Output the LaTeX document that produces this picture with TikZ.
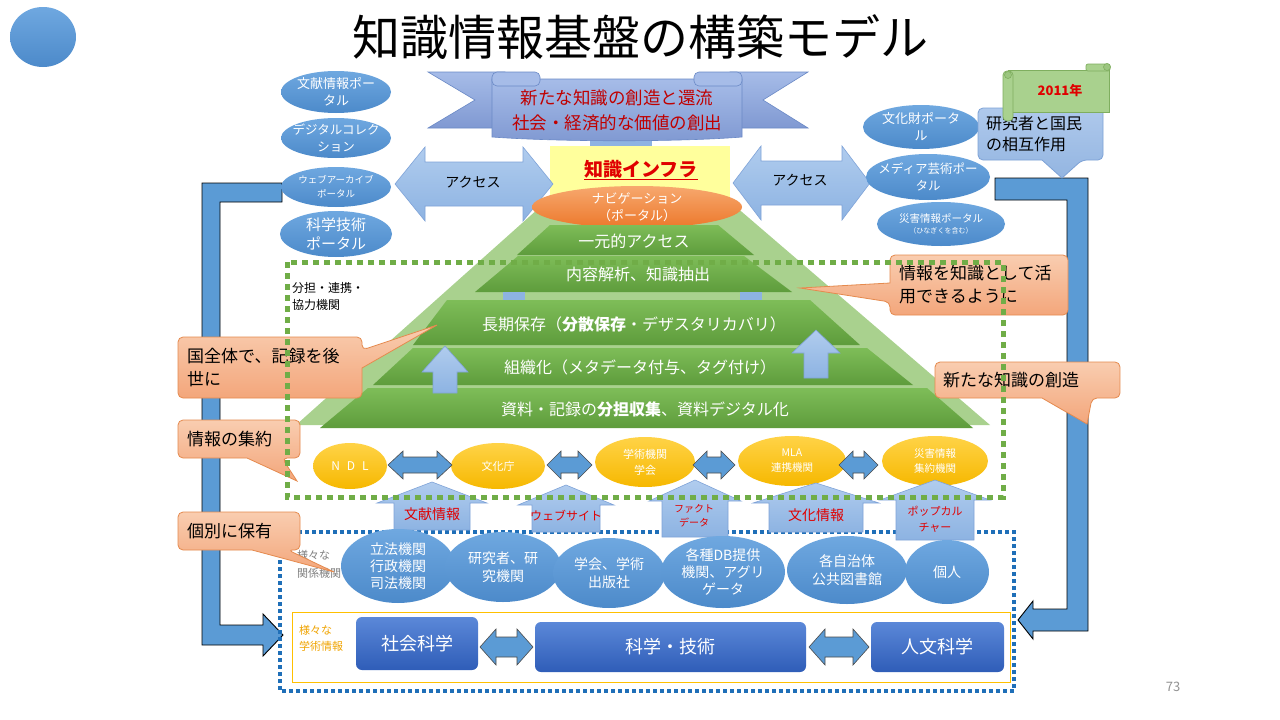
\documentclass[tikz,border=0pt]{standalone}
\usepackage{fontspec}
\setmainfont{Noto Sans CJK JP}
\newcommand\fz[2]{\fontsize{#1}{#2}\selectfont}
\definecolor{ellT}{HTML}{6FA8E0}
\definecolor{ellB}{HTML}{4C8ACA}
\definecolor{arrT}{HTML}{B0CCEE}
\definecolor{arrB}{HTML}{8DB3E2}
\definecolor{arrD}{HTML}{7FA3D8}
\definecolor{calT}{HTML}{F9CDB0}
\definecolor{calB}{HTML}{F3A67B}
\definecolor{calD}{HTML}{E58A4E}
\definecolor{grnT}{HTML}{7EBD58}
\definecolor{grnB}{HTML}{5E9C3C}
\definecolor{grnL}{HTML}{A9D18E}
\definecolor{grnDot}{HTML}{70AD47}
\definecolor{bluDot}{HTML}{1F6FB8}
\definecolor{ylwT}{HTML}{FFD347}
\definecolor{ylwB}{HTML}{F6B800}
\definecolor{orgT}{HTML}{F7A86E}
\definecolor{orgB}{HTML}{EC782B}
\definecolor{dbT}{HTML}{5B88D8}
\definecolor{dbB}{HTML}{2F5DB8}
\definecolor{bendB}{HTML}{5B9BD5}
\definecolor{redT}{HTML}{C00000}
\definecolor{redA}{HTML}{E00000}
\definecolor{ribT}{HTML}{A6BCE8}
\definecolor{ribB}{HTML}{8099D2}
\definecolor{ribD}{HTML}{6A89C6}
\definecolor{yelBox}{HTML}{FFFF9C}
\definecolor{scrollG}{HTML}{A9D18E}
\definecolor{scrollD}{HTML}{7FAE5F}
\definecolor{orgLine}{HTML}{FFC000}
\definecolor{orgTxt}{HTML}{F0A400}
\definecolor{greyTxt}{HTML}{7F7F7F}
\definecolor{bcalT}{HTML}{AFC9EC}
\definecolor{bcalB}{HTML}{93B5E1}
\definecolor{bcalD}{HTML}{7DA2D6}
% block arrow with heads at both ends: style, x1, x2, yc, shaft half, head half, head length
\newcommand\dblarrow[7]{%
  \path[#1] (#2,#4) -- (#2+#7,#4-#6) -- (#2+#7,#4-#5) -- (#3-#7,#4-#5)
    -- (#3-#7,#4-#6) -- (#3,#4) -- (#3-#7,#4+#6) -- (#3-#7,#4+#5)
    -- (#2+#7,#4+#5) -- (#2+#7,#4+#6) -- cycle;}
% upward block arrow: style, xc, y tip, y head base, y bottom, head half, shaft half
\newcommand\uparr[7]{%
  \path[#1] (#2,#3) -- (#2+#6,#4) -- (#2+#7,#4) -- (#2+#7,#5)
    -- (#2-#7,#5) -- (#2-#7,#4) -- (#2-#6,#4) -- cycle;}
% filled ellipse with a text node at its centre: style, name, x, y, rx, ry, font, text
\newcommand\ellnode[8]{%
  \path[#1] (#3,#4) ellipse [x radius=#5pt, y radius=#6pt];
  \node[etext, font=#7] (#2) at (#3,#4) {#8};}
\begin{document}
\begin{tikzpicture}[x=1pt,y=-1pt,
  blueE/.style={top color=ellT,bottom color=ellB},
  yelE/.style={top color=ylwT,bottom color=ylwB},
  etext/.style={text=white,align=center,inner sep=0pt},
  acc/.style={top color=arrT,bottom color=arrB,draw=arrD,line width=0.6pt},
  dbl/.style={fill=bendB,draw=black!70,line width=0.6pt},
  bentarrow/.style={fill=bendB,draw=black,line width=0.9pt},
  calloutbox/.style={top color=calT,bottom color=calB,draw=calD,line width=0.8pt,rounded corners=5pt},
  pyrlayer/.style={top color=grnT,bottom color=grnB},
  ltext/.style={text=white,inner sep=0pt,font=\fz{16}{19}},
  ctext/.style={text=black,align=left,inner sep=0pt,anchor=west,font=\fz{17}{23}},
  atext/.style={text=redA,align=center,inner sep=0pt},
  dbox/.style={top color=dbT,bottom color=dbB,rounded corners=6pt,text=white,inner sep=0pt,font=\fz{18}{21}},
]
\path[use as bounding box, fill=white] (0,0) rectangle (1280,720);

% title and corner mark
\node[font=\fz{48}{52}, inner sep=0pt] (title) at (640,37) {知識情報基盤の構築モデル};
\path[blueE] (43,37) ellipse [x radius=33pt, y radius=30pt];

% large bent return arrows
\path[bentarrow] (202,183) -- (282,183) -- (282,202) -- (220,202) -- (220,625)
  -- (263,625) -- (263,614) -- (283,635) -- (263,656) -- (263,645) -- (202,645) -- cycle;
\path[bentarrow] (995,178) -- (1088,178) -- (1088,631) -- (1033,631) -- (1033,639)
  -- (1018,620) -- (1033,601) -- (1033,609) -- (1067,609) -- (1067,200) -- (995,200) -- cycle;

% ribbon banner
\path[fill=arrB] (590,130) rectangle (652,151);
\path[top color=ribT,bottom color=ribB,draw=ribD,line width=0.6pt]
  (428,72) -- (505,72) -- (505,128) -- (428,128) -- (475,100) -- cycle;
\path[top color=ribT,bottom color=ribB,draw=ribD,line width=0.6pt]
  (808,72) -- (730,72) -- (730,128) -- (808,128) -- (763,100) -- cycle;
\path[top color=ribT,bottom color=ribB,draw=ribD,line width=0.6pt]
  (492,79) -- (742,79) -- (742,137) .. controls (680,142) and (560,142) .. (492,137) -- cycle;
\path[fill=ribT,draw=ribD,line width=0.6pt,rounded corners=5pt] (492,72) rectangle (540,86);
\path[fill=ribT,draw=ribD,line width=0.6pt,rounded corners=5pt] (694,72) rectangle (742,86);
\node[text=redT, align=center, inner sep=0pt, font=\fz{17.5}{25}] (banner) at (617,110)
  {新たな知識の創造と還流\\社会・経済的な価値の創出};

% knowledge infrastructure box
\path[fill=yelBox] (550,146) rectangle (730,212);
\node[text=redA, inner sep=0pt, font=\bfseries\fz{19}{22}] (infra) at (641,170) {\underline{知識インフラ}};

% access arrows
\dblarrow{acc}{395}{553}{184}{22}{37}{30}
\node[inner sep=0pt, font=\fz{14}{16}] (accL) at (473,182) {アクセス};
\dblarrow{acc}{733}{870}{183}{22}{37}{28}
\node[inner sep=0pt, font=\fz{14}{16}] (accR) at (800,180) {アクセス};

% portals on the left
\ellnode{blueE}{pBunken}{336}{92}{55}{21}{\fz{13}{17}}{文献情報ポー\\タル}
\ellnode{blueE}{pDigital}{336}{138}{55}{20}{\fz{12.5}{17}}{デジタルコレク\\ション}
\ellnode{blueE}{pWarp}{336}{187}{55}{20}{\fz{9.5}{14}}{ウェブアーカイブ\\ポータル}
\ellnode{blueE}{pScience}{336}{234}{56}{23}{\fz{15}{19}}{科学技術\\ポータル}

% portals on the right
\ellnode{blueE}{pBunka}{921}{127}{58}{22}{\fz{13}{17}}{文化財ポータ\\ル}
\ellnode{blueE}{pMedia}{928}{177}{62}{23}{\fz{12.5}{17}}{メディア芸術ポー\\タル}
\path[blueE] (941,224) ellipse [x radius=64pt, y radius=22pt];
\node[etext] (pSaigai) at (941,224) {{\fz{10.5}{13}災害情報ポータル}\\[-1pt]{\fz{7}{9}（ひなぎくを含む）}};

% researchers and citizens callout with the year scroll
\path[top color=bcalT,bottom color=bcalB,draw=bcalD,line width=0.8pt,rounded corners=5pt]
  (1040,108) -- (1103,108) -- (1103,160) -- (1082,160) [sharp corners] -- (1062,178)
  -- (1042,160) [rounded corners=5pt] -- (978,160) -- (978,108) -- cycle;
\node[ctext, font=\fz{16}{21}] (kokumin) at (986,134) {研究者と国民\\の相互作用};
\path[fill=scrollG,draw=scrollD,line width=0.7pt] (1008,70) rectangle (1109,112);
\path[fill=scrollG,draw=scrollD,line width=0.7pt,rounded corners=2pt] (1086,64) rectangle (1110,71);
\path[fill=scrollG!70!scrollD,draw=scrollD,line width=0.6pt] (1107,67) circle [radius=3.5pt];
\path[fill=scrollG,draw=scrollD,line width=0.7pt,rounded corners=4pt] (1003,71) rectangle (1013,121);
\path[fill=scrollG!70!scrollD,draw=scrollD,line width=0.6pt] (1008,75) circle [radius=3.5pt];
\node[text=redA, inner sep=0pt, font=\bfseries\fz{13}{15}] (year) at (1060,91) {2011年};

% pyramid
\path[fill=grnL] (548,200) -- (728,200) -- (990,425) -- (296,425) -- cycle;
\path[top color=orgT,bottom color=orgB] (637,207) ellipse [x radius=105pt, y radius=21pt];
\node[etext, font=\fz{13}{17}] (navi) at (637,207) {ナビゲーション\\（ポータル）};
\path[pyrlayer] (550,225) -- (718,225) -- (754,255) -- (517,255) -- cycle;
\path[pyrlayer] (518,256) -- (744,256) -- (792,292) -- (475,292) -- cycle;
\path[pyrlayer] (447,300) -- (810,300) -- (860,345) -- (413,345) -- cycle;
\path[pyrlayer] (413,348) -- (867,348) -- (913,385) -- (373,385) -- cycle;
\path[pyrlayer] (368,388) -- (927,388) -- (973,428) -- (320,428) -- cycle;
\path[fill=arrB] (503,292) rectangle (525,300);
\path[fill=arrB] (740,292) rectangle (762,300);
\node[ltext] (lay1) at (634,241) {一元的アクセス};
\node[ltext] (lay2) at (638,274) {内容解析、知識抽出};
\node[ltext] (lay3) at (634,324) {長期保存（\textbf{分散保存}・デザスタリカバリ）};
\node[ltext] (lay4) at (640,367) {組織化（メタデータ付与、タグ付け）};
\node[ltext] (lay5) at (645,409) {資料・記録の\textbf{分担収集}、資料デジタル化};
\uparr{acc}{445}{346}{372}{393}{23}{12}
\uparr{acc}{816}{330}{353}{378}{24}{12}

% cooperating institutions
\node[anchor=north west, align=left, inner sep=0pt, font=\fz{12}{17}] (bunpan) at (292,282) {分担・連携・\\協力機関};
\ellnode{yelE}{ndl}{350}{466}{37}{23}{\fz{12}{14}}{N\hspace{7pt}D\hspace{7pt}L}
\ellnode{yelE}{bunkacho}{498}{466}{47}{23}{\fz{11}{14}}{文化庁}
\ellnode{yelE}{gakujutsu}{645}{462}{50}{25}{\fz{11}{16}}{学術機関\\学会}
\ellnode{yelE}{mla}{792}{461}{54}{25}{\fz{10.5}{15}}{MLA\\連携機関}
\ellnode{yelE}{saigai}{935}{461}{53}{25}{\fz{10.5}{15}}{災害情報\\集約機関}
\dblarrow{dbl}{388}{452}{465}{8}{14}{15}
\dblarrow{dbl}{547}{592}{465}{8}{14}{14}
\dblarrow{dbl}{693}{735}{465}{8}{14}{14}
\dblarrow{dbl}{839}{878}{465}{8}{14}{14}

% holders of information
\draw[draw=bluDot, line width=3.5pt, dash pattern=on 4pt off 3pt] (280,532) rectangle (1014,691);
\uparr{acc}{432}{482}{503}{530}{55}{38}
\uparr{acc}{566}{485}{505}{532}{48}{34}
\uparr{acc}{695}{480}{501}{537}{46}{33}
\uparr{acc}{816}{483}{503}{532}{63}{47}
\uparr{acc}{935}{480}{500}{540}{55}{39}
\node[atext, font=\fz{14}{16}] (tBunken) at (432,514) {文献情報};
\node[atext, font=\fz{12}{14}] (tWeb) at (566,516) {ウェブサイト};
\node[atext, font=\fz{10}{14}] (tFact) at (694,516) {ファクト\\データ};
\node[atext, font=\fz{14}{16}] (tBunka) at (816,515) {文化情報};
\node[atext, font=\fz{11}{16}] (tPop) at (935,519) {ポップカル\\チャー};

\node[anchor=north west, align=left, inner sep=0pt, text=greyTxt, font=\fz{11}{18}] (kankei) at (297,550) {様々な\\関係機関};
\ellnode{blueE}{rippou}{398}{566}{57}{37}{\fz{14}{17}}{立法機関\\行政機関\\司法機関}
\ellnode{blueE}{kenkyu}{503}{567}{58}{35}{\fz{14}{18}}{研究者、研\\究機関}
\ellnode{blueE}{gakkai}{609}{573}{56}{35}{\fz{14}{18}}{学会、学術\\出版社}
\ellnode{blueE}{dbteikyo}{723}{572}{62}{36}{\fz{14}{17}}{各種DB提供\\機関、アグリ\\ゲータ}
\ellnode{blueE}{jichitai}{847}{570}{60}{34}{\fz{14}{18}}{各自治体\\公共図書館}
\ellnode{blueE}{kojin}{947}{572}{42}{32}{\fz{14}{17}}{個人}

% academic fields
\draw[draw=orgLine, line width=1pt] (292,612) rectangle (1010,682);
\node[anchor=north west, align=left, inner sep=0pt, text=orgTxt, font=\fz{11}{16}] (gakujutsuJ) at (299,625) {様々な\\学術情報};
\node[dbox, minimum width=122pt, minimum height=53pt] (shakai) at (417,643.5) {社会科学};
\node[dbox, minimum width=271pt, minimum height=50pt] (kagaku) at (670.5,647) {科学・技術};
\node[dbox, minimum width=133pt, minimum height=50pt] (jinbun) at (937.5,647) {人文科学};
\dblarrow{dbl}{480}{533}{647}{10}{18}{16}
\dblarrow{dbl}{809}{869}{647}{10}{18}{16}

% callouts
\path[calloutbox] (270,337) -- (362,337) -- (362,350) [sharp corners] -- (437,325)
  -- (362,368) [rounded corners=5pt] -- (362,398) -- (178,398) -- (178,337) -- cycle;
\node[ctext] (cZenkoku) at (187,367.5) {国全体で、記録を後\\世に};
\path[calloutbox] (240,420) -- (300,420) -- (300,458) -- (282,458) [sharp corners] -- (297,481)
  -- (247,458) [rounded corners=5pt] -- (178,458) -- (178,420) -- cycle;
\node[ctext] (cShuyaku) at (187,439) {情報の集約};
\path[calloutbox] (240,512) -- (300,512) -- (300,550) -- (288,550) [sharp corners] -- (334,572)
  -- (252,550) [rounded corners=5pt] -- (178,550) -- (178,512) -- cycle;
\node[ctext] (cKobetsu) at (187,531) {個別に保有};
\path[calloutbox] (980,255) -- (1068,255) -- (1068,315) -- (890,315) -- (890,302) [sharp corners]
  -- (800,288) -- (890,283) [rounded corners=5pt] -- (890,255) -- cycle;
\node[ctext] (cKatsuyo) at (899,285) {情報を知識として活\\用できるように};
\path[calloutbox] (1030,362) -- (1120,362) -- (1120,398) -- (1092,398) [sharp corners] -- (1087,424)
  -- (1042,398) [rounded corners=5pt] -- (935,398) -- (935,362) -- cycle;
\node[ctext] (cSouzou) at (943,380) {新たな知識の創造};

% cooperation frame
\draw[draw=grnDot, line width=5pt, dash pattern=on 6pt off 5pt] (287,262) rectangle (1003,497);

\node[text=greyTxt!85, inner sep=0pt, font=\fz{13}{15}] (pnum) at (1173,687) {73};
\end{tikzpicture}
\end{document}
